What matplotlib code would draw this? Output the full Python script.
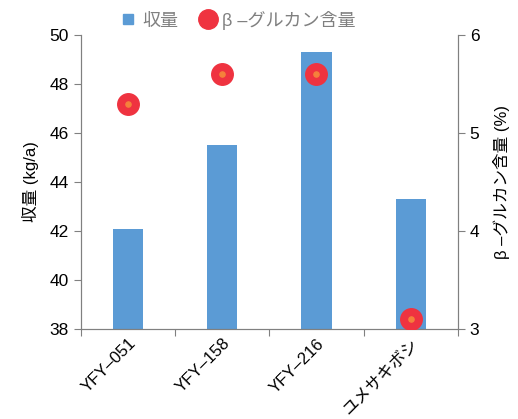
import matplotlib
matplotlib.use("Agg")
import matplotlib.pyplot as plt
from matplotlib.lines import Line2D

plt.rcParams['font.family'] = ['Liberation Sans', 'Noto Sans CJK JP', 'DejaVu Sans']

# data
varieties = ["YFY–051", "YFY–158", "YFY–216", "ユメサキボシ"]
yield_kg = [42.1, 45.5, 49.3, 43.3]
glucan_pct = [5.3, 5.6, 5.6, 3.1]

fig = plt.figure(figsize=(5.18, 4.19), dpi=100)
ax = fig.add_axes([0.156, 0.215, 0.728, 0.701])
ax2 = ax.twinx()

x = list(range(len(varieties)))
ax.bar(x, yield_kg, width=0.32, color="#5b9bd5", zorder=2)
ax.set_ylim(38, 50)
ax.set_yticks(range(38, 51, 2))
ax.set_xlim(-0.5, len(varieties) - 0.5)

# ticks sit on the category boundaries, labels under the centers
ax.set_xticks([i - 0.5 for i in range(len(varieties) + 1)])
ax.set_xticklabels([])
ax.set_xticks(x, minor=True)
ax.set_xticklabels(varieties, minor=True, rotation=45, ha="right",
                   rotation_mode="anchor", fontsize=12)
ax.tick_params(axis="x", which="minor", length=0, pad=5)
ax.tick_params(axis="x", which="major", length=5, color="#808080")
ax.tick_params(axis="y", length=5, color="#808080", labelsize=12.5)

ax2.scatter(x, glucan_pct, s=240, color="#ef3340", zorder=3)
ax2.scatter(x, glucan_pct, s=14, color="#f5813b", zorder=4)
ax2.set_ylim(3, 6)
ax2.set_yticks([3, 4, 5, 6])
ax2.tick_params(axis="y", length=5, color="#808080", labelsize=12.5)

for a in (ax, ax2):
    a.spines["top"].set_visible(False)
    for s in ("left", "right", "bottom"):
        a.spines[s].set_color("#808080")

ax.set_ylabel("収量 (kg/a)", fontsize=12, labelpad=8)
ax2.set_ylabel("β –グルカン含量 (%)", fontsize=12, labelpad=10)

handles = [
    Line2D([], [], marker="s", linestyle="none", color="#5b9bd5", markersize=7),
    Line2D([], [], marker="o", linestyle="none", color="#ef3340", markersize=14),
]
fig.legend(handles, ["収量", "β –グルカン含量"], loc="center",
           bbox_to_anchor=(0.46, 0.952), ncol=2, frameon=False,
           fontsize=13, labelcolor="#808080", handlelength=0.8,
           handletextpad=0.4, columnspacing=1.2)

plt.savefig("out.png", dpi=100)
plt.close()
